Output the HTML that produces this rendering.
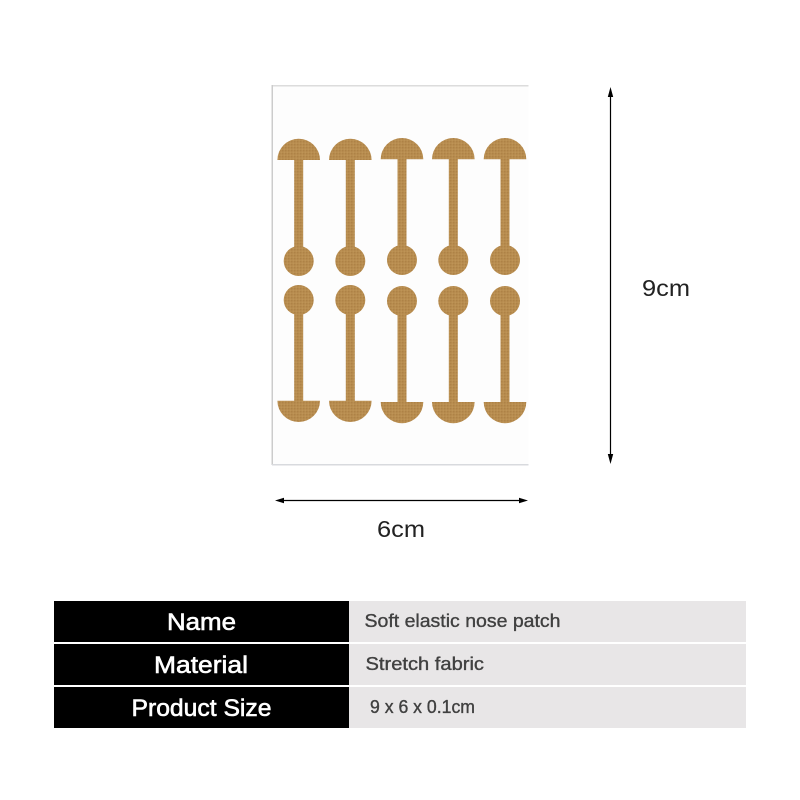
<!DOCTYPE html>
<html lang="en">
<head>
<meta charset="utf-8">
<title>Soft elastic nose patch</title>
<style>
html,body{margin:0;padding:0;background:#fff;width:800px;height:800px;overflow:hidden}
svg{display:block}
text{font-family:"Liberation Sans",sans-serif}
</style>
</head>
<body>
<svg width="800" height="800" viewBox="0 0 800 800" xmlns="http://www.w3.org/2000/svg">
<defs>
<pattern id="weave" width="3" height="3" patternUnits="userSpaceOnUse">
<rect width="3" height="3" fill="#b88d50"/>
<circle cx="0.8" cy="0.8" r="0.65" fill="#a97d40"/>
<circle cx="2.3" cy="2.3" r="0.65" fill="#c09658"/>
</pattern>
</defs>
<rect width="800" height="800" fill="#fff"/>

<!-- sheet -->
<rect x="272" y="85.5" width="256.5" height="379.5" fill="#fdfdfd"/>
<rect x="272" y="85" width="256.5" height="1.5" fill="#dcdcdc"/>
<rect x="271.5" y="85" width="1.5" height="380" fill="#cccccc"/>
<rect x="272" y="464" width="256.5" height="1.5" fill="#d8dade"/>

<g fill="url(#weave)">
<!-- upper row -->
<path d="M277.4 160a21.3 21.3 0 0 1 42.6 0z"/><rect x="294.2" y="159" width="9" height="90"/><circle cx="298.7" cy="261" r="15"/>
<path d="M329 160a21.3 21.3 0 0 1 42.6 0z"/><rect x="345.8" y="159" width="9" height="90"/><circle cx="350.3" cy="261" r="15"/>
<path d="M380.7 159.3a21.3 21.3 0 0 1 42.6 0z"/><rect x="397.5" y="158" width="9" height="90"/><circle cx="402" cy="260" r="15"/>
<path d="M432 159.3a21.3 21.3 0 0 1 42.6 0z"/><rect x="448.8" y="158" width="9" height="90"/><circle cx="453.3" cy="260" r="15"/>
<path d="M483.7 159.3a21.3 21.3 0 0 1 42.6 0z"/><rect x="500.5" y="158" width="9" height="90"/><circle cx="505" cy="260" r="15"/>
<!-- lower row -->
<circle cx="298.7" cy="300" r="15"/><rect x="294.2" y="310" width="9" height="92"/><path d="M277.4 400.7h42.6a21.3 21.3 0 0 1-42.6 0z"/>
<circle cx="350.3" cy="300" r="15"/><rect x="345.8" y="310" width="9" height="92"/><path d="M329 400.7h42.6a21.3 21.3 0 0 1-42.6 0z"/>
<circle cx="402" cy="301" r="15"/><rect x="397.5" y="311" width="9" height="92"/><path d="M380.7 402h42.6a21.3 21.3 0 0 1-42.6 0z"/>
<circle cx="453.3" cy="301" r="15"/><rect x="448.8" y="311" width="9" height="92"/><path d="M432 402h42.6a21.3 21.3 0 0 1-42.6 0z"/>
<circle cx="505" cy="301" r="15"/><rect x="500.5" y="311" width="9" height="92"/><path d="M483.7 402h42.6a21.3 21.3 0 0 1-42.6 0z"/>
</g>

<!-- width arrow -->
<line x1="280" y1="500.5" x2="523" y2="500.5" stroke="#000" stroke-width="1.2"/>
<path d="M275 500.5L284 497.8v5.4zM528 500.5L519 497.8v5.4z" fill="#000"/>
<text x="377" y="537" font-size="23" textLength="48" lengthAdjust="spacingAndGlyphs" fill="#222">6cm</text>

<!-- height arrow -->
<line x1="610.5" y1="92" x2="610.5" y2="459" stroke="#000" stroke-width="1.2"/>
<path d="M610.5 87L613.2 97h-5.4zM610.5 464L613.2 454h-5.4z" fill="#000"/>
<text x="642" y="296" font-size="23" textLength="48" lengthAdjust="spacingAndGlyphs" fill="#222">9cm</text>

<!-- table -->
<rect x="54" y="601" width="295" height="41" fill="#000"/>
<rect x="54" y="644" width="295" height="41" fill="#000"/>
<rect x="54" y="687" width="295" height="41" fill="#000"/>
<rect x="349" y="601" width="397" height="41" fill="#e8e6e7"/>
<rect x="349" y="644" width="397" height="41" fill="#e8e6e7"/>
<rect x="349" y="687" width="397" height="41" fill="#e8e6e7"/>

<g fill="#fff" stroke="#fff" stroke-width="0.6" font-size="24">
<text x="167" y="630" textLength="69" lengthAdjust="spacingAndGlyphs">Name</text>
<text x="154" y="673" textLength="94" lengthAdjust="spacingAndGlyphs">Material</text>
<text x="131.5" y="716" textLength="140" lengthAdjust="spacingAndGlyphs">Product Size</text>
</g>
<g fill="#404040" stroke="#404040" stroke-width="0.35" font-size="18">
<text x="364.5" y="627" textLength="196" lengthAdjust="spacingAndGlyphs">Soft elastic nose patch</text>
<text x="365.5" y="670" textLength="118.5" lengthAdjust="spacingAndGlyphs">Stretch fabric</text>
<text x="370" y="713" textLength="105" lengthAdjust="spacingAndGlyphs">9 x 6 x 0.1cm</text>
</g>
</svg>
</body>
</html>
